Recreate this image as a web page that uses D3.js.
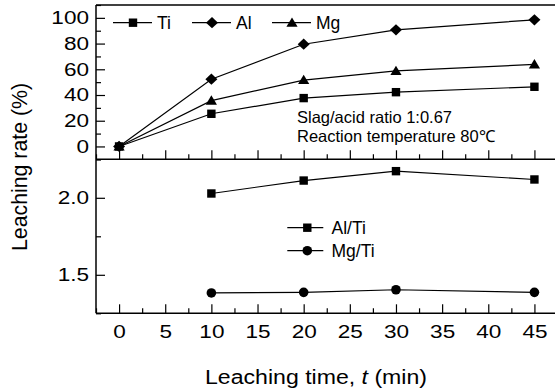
<!DOCTYPE html>
<html><head><meta charset="utf-8">
<script src="https://cdn.jsdelivr.net/npm/d3@7"></script>
<style>
html,body{margin:0;padding:0;background:#fff;}
svg{display:block;font-family:"Liberation Sans",Arial,sans-serif;}
</style></head>
<body><svg id="c" width="555" height="392"></svg>
<script>
// ---- data ----
const times = [0, 10, 20, 30, 45];
const tiRate = [0, 25.4, 37.6, 42.2, 46.4];
const alRate = [0, 52.3, 79.5, 90.7, 98.5];
const mgRate = [0, 35.6, 51.6, 58.7, 63.8];
const ratioTimes = [10, 20, 30, 45];
const alTi = [2.028, 2.112, 2.173, 2.119];
const mgTi = [1.382, 1.386, 1.403, 1.386];
const xTicks = [0, 5, 10, 15, 20, 25, 30, 35, 40, 45];
const xMinor = [-2.5, 2.5, 7.5, 12.5, 17.5, 22.5, 27.5, 32.5, 37.5, 42.5, 47.5];
const yTopTicks = [0, 20, 40, 60, 80, 100];
const yTopMinor = [-10, 10, 30, 50, 70, 90, 110];
const yBotTicks = [1.5, 2.0];
const yBotMinor = [1.25, 1.75, 2.25];
const legendTop = ["Ti", "Al", "Mg"];
const legendBot = ["Al/Ti", "Mg/Ti"];
const notes = ["Slag/acid ratio 1:0.67", "Reaction temperature 80\u2103"];

const svg = d3.select("#c");
const L = 96, R = 557.5, T = 5, MID = 159.3, B = 313.3;
const x = d3.scaleLinear().domain([-2.5, 47.5]).range([L, R]);
const yT = d3.scaleLinear().domain([-10, 110]).range([MID, T]);
const yB = d3.scaleLinear().domain([1.25, 2.25]).range([B, MID]);

// marker shapes
function marker(g, type, cx, cy) {
  if (type === "square") g.append("rect").attr("x", cx - 4.2).attr("y", cy - 4.2).attr("width", 8.4).attr("height", 8.4).attr("fill", "#000");
  else if (type === "diamond") g.append("path").attr("d", `M${cx},${cy - 5.6}L${cx + 6},${cy}L${cx},${cy + 5.6}L${cx - 6},${cy}Z`).attr("fill", "#000");
  else if (type === "triangle") g.append("path").attr("d", `M${cx},${cy - 5.3}L${cx + 5.6},${cy + 4}L${cx - 5.6},${cy + 4}Z`).attr("fill", "#000");
  else if (type === "circle") g.append("circle").attr("cx", cx).attr("cy", cy).attr("r", 4.8).attr("fill", "#000");
}

// axes
const fs = 18.5, sx = 1.22;
function styleAxis(g) {
  g.select(".domain").remove();
  g.selectAll("line").attr("stroke", "#000").attr("stroke-width", 1.2);
  g.selectAll("text").attr("font-size", fs).attr("fill", "#000").attr("font-family", "Liberation Sans, Arial, sans-serif")
    .each(function () {
      const t = d3.select(this); const xv = +t.attr("x") || 0;
      t.attr("x", 0).attr("transform", `translate(${xv},0) scale(${sx},1)`);
    });
}

svg.append("g").attr("transform", `translate(${L},0)`).call(d3.axisLeft(yT).tickValues(yTopTicks).tickSizeInner(-9).tickSizeOuter(0).tickPadding(7)).call(styleAxis);
svg.append("g").attr("transform", `translate(${L},0)`).call(d3.axisLeft(yT).tickValues(yTopMinor).tickSizeInner(-5).tickSizeOuter(0).tickFormat("")).call(styleAxis);
svg.append("g").attr("transform", `translate(${L},0)`).call(d3.axisLeft(yB).tickValues(yBotTicks).tickSizeInner(-9).tickSizeOuter(0).tickPadding(7).tickFormat(d3.format(".1f"))).call(styleAxis);
svg.append("g").attr("transform", `translate(${L},0)`).call(d3.axisLeft(yB).tickValues(yBotMinor).tickSizeInner(-5).tickSizeOuter(0).tickFormat("")).call(styleAxis);

svg.append("g").attr("transform", `translate(0,${MID})`).call(d3.axisBottom(x).tickValues(xTicks).tickSizeInner(-9).tickSizeOuter(0).tickFormat("")).call(styleAxis);
svg.append("g").attr("transform", `translate(0,${MID})`).call(d3.axisBottom(x).tickValues(xMinor).tickSizeInner(-5).tickSizeOuter(0).tickFormat("")).call(styleAxis);
svg.append("g").attr("transform", `translate(0,${B})`).call(d3.axisBottom(x).tickValues(xTicks).tickSizeInner(-9).tickSizeOuter(0).tickPadding(12)).call(styleAxis);
svg.append("g").attr("transform", `translate(0,${B})`).call(d3.axisBottom(x).tickValues(xMinor).tickSizeInner(-5).tickSizeOuter(0).tickFormat("")).call(styleAxis);

// frame
const frame = svg.append("g").attr("stroke", "#000").attr("stroke-width", 1.5).attr("fill", "none");
frame.append("line").attr("x1", L).attr("x2", L).attr("y1", T).attr("y2", B);
frame.append("line").attr("x1", L).attr("x2", 555).attr("y1", T).attr("y2", T);
frame.append("line").attr("x1", L).attr("x2", 555).attr("y1", MID).attr("y2", MID);
frame.append("line").attr("x1", L).attr("x2", 555).attr("y1", B).attr("y2", B);

// series
function series(xs, ys, yScale, type) {
  const g = svg.append("g");
  const line = d3.line().x((d, i) => x(xs[i])).y(d => yScale(d));
  g.append("path").attr("d", line(ys)).attr("fill", "none").attr("stroke", "#000").attr("stroke-width", 1.2);
  ys.forEach((v, i) => marker(g, type, x(xs[i]), yScale(v)));
}
series(times, tiRate, yT, "square");
series(times, mgRate, yT, "triangle");
series(times, alRate, yT, "diamond");
series(ratioTimes, alTi, yB, "square");
series(ratioTimes, mgTi, yB, "circle");

// legends
const lg = svg.append("g");
const topTypes = ["square", "diamond", "triangle"];
const topCx = [133, 212, 292];
legendTop.forEach((t, i) => {
  const cx = topCx[i], cy = 22.7;
  lg.append("line").attr("x1", cx - 20).attr("x2", cx + 19).attr("y1", cy).attr("y2", cy).attr("stroke", "#000").attr("stroke-width", 1.2);
  marker(lg, topTypes[i], cx, cy);
  lg.append("text").attr("x", cx + 24).attr("y", 28.8).attr("font-size", 17.5).text(t);
});
const botTypes = ["square", "circle"];
const botCy = [227.7, 250.7];
legendBot.forEach((t, i) => {
  const cx = 307.3, cy = botCy[i];
  lg.append("line").attr("x1", cx - 20).attr("x2", cx + 16).attr("y1", cy).attr("y2", cy).attr("stroke", "#000").attr("stroke-width", 1.2);
  marker(lg, botTypes[i], cx, cy);
  lg.append("text").attr("x", 331.5).attr("y", cy + 6.5).attr("font-size", 17.5).text(t);
});

// annotations
notes.forEach((t, i) => {
  svg.append("text").attr("x", 297).attr("y", 122.7 + i * 19).attr("font-size", 16.5).text(t);
});

// axis titles
svg.append("text").attr("transform", "translate(316,384) scale(1.1,1)").attr("text-anchor", "middle").attr("font-size", 21)
  .html('Leaching time, <tspan font-style="italic">t</tspan> (min)');
svg.append("text").attr("transform", "translate(27,167) rotate(-90)").attr("text-anchor", "middle").attr("font-size", 21.3).text("Leaching rate (%)");
</script></body></html>
